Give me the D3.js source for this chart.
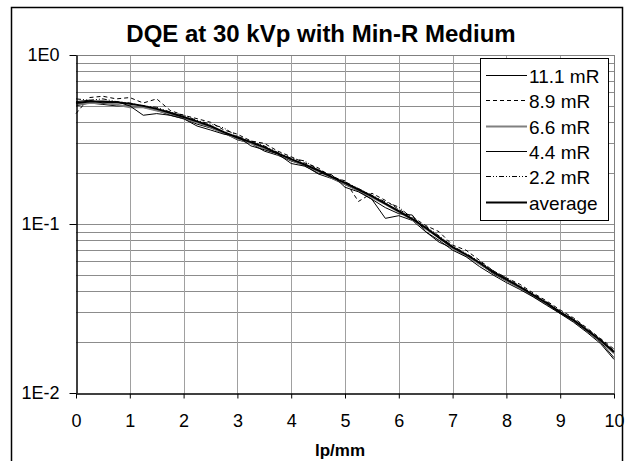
<!DOCTYPE html>
<html>
<head>
<meta charset="utf-8">
<script src="https://cdn.jsdelivr.net/npm/d3@7"></script>
<style>
  body { margin: 0; background: #fff; }
  svg { font-family: Arial, "Liberation Sans", sans-serif; }
</style>
</head>
<body>
<div></div>
<script>
// datos (paso 0.25 lp/mm)
var freqs = d3.range(0, 10.001, 0.25)
var s111 = [0.50,0.52,0.51,0.50,0.50,0.49,0.47,0.44,0.42,0.39,0.37,0.345,0.315,0.30,0.27,0.255,0.236,0.222,0.198,0.186,0.171,0.157,0.140,0.108,0.112,0.105,0.090,0.078,0.072,0.065,0.058,0.051,0.046,0.0418,0.0372,0.0335,0.0296,0.0266,0.0232,0.0200,0.0162]
var s89 = [0.45,0.56,0.57,0.55,0.56,0.52,0.55,0.47,0.44,0.42,0.40,0.36,0.34,0.31,0.30,0.27,0.25,0.23,0.215,0.19,0.18,0.136,0.152,0.138,0.122,0.110,0.098,0.090,0.075,0.070,0.061,0.053,0.048,0.044,0.039,0.035,0.031,0.0278,0.0242,0.0210,0.0182]
var s66 = [0.51,0.52,0.52,0.51,0.49,0.49,0.47,0.45,0.42,0.40,0.375,0.345,0.32,0.30,0.28,0.26,0.24,0.222,0.206,0.188,0.173,0.158,0.144,0.131,0.118,0.106,0.094,0.083,0.072,0.065,0.058,0.052,0.0465,0.042,0.0378,0.0338,0.030,0.0268,0.0234,0.0204,0.0172]
var s44 = [0.53,0.54,0.52,0.53,0.50,0.44,0.45,0.44,0.42,0.38,0.36,0.34,0.33,0.29,0.275,0.26,0.228,0.22,0.20,0.196,0.165,0.155,0.140,0.125,0.115,0.113,0.090,0.080,0.070,0.064,0.056,0.050,0.045,0.041,0.037,0.033,0.0295,0.0262,0.0228,0.0196,0.0158]
var s22 = [0.55,0.54,0.55,0.53,0.52,0.50,0.49,0.46,0.44,0.41,0.39,0.37,0.33,0.31,0.29,0.265,0.245,0.236,0.21,0.192,0.178,0.162,0.148,0.135,0.126,0.108,0.097,0.085,0.074,0.067,0.060,0.053,0.048,0.043,0.0385,0.0345,0.0305,0.0274,0.0240,0.0208,0.0178]
var average = [0.52,0.53,0.53,0.525,0.515,0.50,0.48,0.455,0.43,0.405,0.38,0.35,0.325,0.305,0.285,0.262,0.242,0.225,0.208,0.19,0.175,0.16,0.146,0.132,0.119,0.107,0.095,0.083,0.073,0.066,0.059,0.052,0.047,0.0425,0.038,0.034,0.030,0.027,0.0235,0.0205,0.0175]

var seriesNames = ['11.1 mR','8.9 mR','6.6 mR','4.4 mR','2.2 mR','average']
var seriesValues = [s111, s89, s66, s44, s22, average]
var xTicks = d3.range(0, 11)
var yTicks = [1, 0.1, 0.01]
var yTickLabels = ['1E0','1E-1','1E-2']

// estilos de linea por serie
var estilos = [
  {stroke:'#000', width:1, dash:null},
  {stroke:'#000', width:1, dash:'4,3'},
  {stroke:'#808080', width:2, dash:null},
  {stroke:'#000', width:1, dash:null},
  {stroke:'#000', width:1, dash:'5,2,1,2,1,2'},
  {stroke:'#000', width:2, dash:null}
]

var w = 633, h = 461
var pLeft = 76, pRight = 614, pTop = 55, pBottom = 393

var svg = d3.select('div')
    .append('svg')
    .attr('width', w)
    .attr('height', h)

// marco exterior
svg.append('rect')
    .attr('x', 11.5).attr('y', 7.5)
    .attr('width', 611).attr('height', 460)
    .attr('fill', 'none').attr('stroke', '#000').attr('stroke-width', 1.5)

var scaleX = d3.scaleLinear().domain([0, 10]).range([pLeft, pRight])
var scaleY = d3.scaleLog().domain([0.01, 1]).range([pBottom, pTop])

// rejilla
var minors = []
;[0.01, 0.1].forEach(function(dec){
    for (var k = 2; k <= 9; k++) minors.push(dec * k)
})
minors.push(0.1)
svg.append('g')
    .selectAll('line')
    .data(minors)
    .enter()
    .append('line')
    .attr('x1', pLeft).attr('x2', pRight)
    .attr('y1', d => Math.round(scaleY(d)) + 0.5)
    .attr('y2', d => Math.round(scaleY(d)) + 0.5)
    .attr('stroke', '#8c8c8c').attr('stroke-width', 1)

svg.append('g')
    .selectAll('line')
    .data(d3.range(1, 10))
    .enter()
    .append('line')
    .attr('x1', d => Math.round(scaleX(d)) + 0.5)
    .attr('x2', d => Math.round(scaleX(d)) + 0.5)
    .attr('y1', pTop).attr('y2', pBottom)
    .attr('stroke', '#a0a0a0').attr('stroke-width', 1)

// borde del area de trazado
svg.append('line').attr('x1', pLeft).attr('x2', pRight).attr('y1', pTop + 0.5).attr('y2', pTop + 0.5)
    .attr('stroke', '#808080')
svg.append('line').attr('x1', pRight + 0.5).attr('x2', pRight + 0.5).attr('y1', pTop).attr('y2', pBottom)
    .attr('stroke', '#808080')

// series
var linea = d3.line()
    .x((d, i) => scaleX(freqs[i]))
    .y(d => scaleY(d))

seriesValues.forEach(function(vals, i){
    svg.append('path')
        .datum(vals)
        .attr('d', linea)
        .attr('fill', 'none')
        .attr('stroke', estilos[i].stroke)
        .attr('stroke-width', estilos[i].width)
        .attr('stroke-dasharray', estilos[i].dash)
})

// ejes
var xaxis = d3.axisBottom(scaleX).tickValues(xTicks).tickFormat(d3.format('d')).tickSizeInner(5).tickSizeOuter(0).tickPadding(16)
var yaxis = d3.axisLeft(scaleY).tickValues(yTicks).tickFormat((d, i) => yTickLabels[i]).tickSizeInner(7).tickSizeOuter(0).tickPadding(10)

var gx = svg.append('g').attr('transform', 'translate(0,' + (pBottom + 0.5) + ')').call(xaxis)
var gy = svg.append('g').attr('transform', 'translate(' + (pLeft + 0.5) + ',0)').call(yaxis)
;[gx, gy].forEach(function(g){
    g.select('.domain').attr('stroke', '#000').attr('stroke-width', 1.5)
    g.selectAll('.tick line').attr('stroke', '#000')
    g.selectAll('.tick text').attr('font-size', 18).attr('fill', '#000').attr('font-family', 'Arial, "Liberation Sans", sans-serif')
})

// titulos
svg.append('text')
    .attr('x', 321).attr('y', 42)
    .attr('text-anchor', 'middle')
    .attr('font-size', 24).attr('font-weight', 'bold')
    .text('DQE at 30 kVp with Min-R Medium')

svg.append('text')
    .attr('x', 340).attr('y', 456)
    .attr('text-anchor', 'middle')
    .attr('font-size', 17).attr('font-weight', 'bold')
    .text('lp/mm')

// leyenda
var leg = svg.append('g')
leg.append('rect')
    .attr('x', 480.5).attr('y', 58.5)
    .attr('width', 128).attr('height', 162)
    .attr('fill', '#fff').attr('stroke', '#000')

seriesNames.forEach(function(n, i){
    var yy = Math.round(75 + i * 25.3) + 0.5
    leg.append('line')
        .attr('x1', 486).attr('x2', 527)
        .attr('y1', yy).attr('y2', yy)
        .attr('stroke', estilos[i].stroke)
        .attr('stroke-width', estilos[i].width)
        .attr('stroke-dasharray', estilos[i].dash)
    leg.append('text')
        .attr('x', 529).attr('y', yy + 7)
        .attr('font-size', 19)
        .text(n)
})
</script>
</body>
</html>
